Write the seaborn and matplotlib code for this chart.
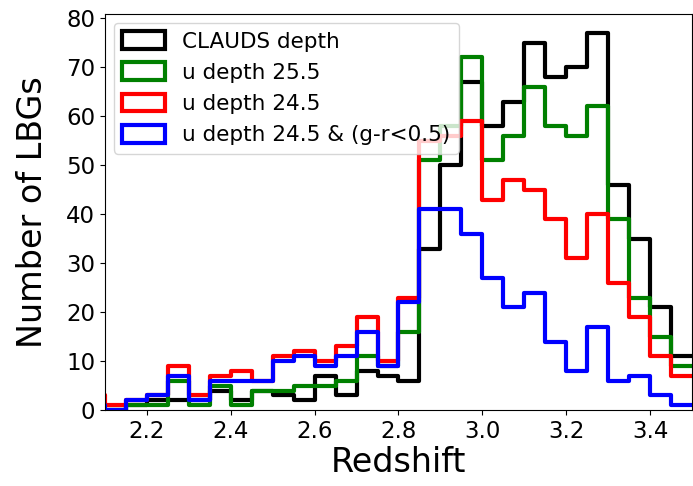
import numpy as np
import pandas as pd
import matplotlib
matplotlib.use("Agg")
import matplotlib.pyplot as plt
import seaborn as sns
from matplotlib.patches import Patch

# left edges of each 0.05-wide redshift bin
bin_left = [2.05, 2.10, 2.15, 2.20, 2.25, 2.30, 2.35, 2.40, 2.45, 2.50,
            2.55, 2.60, 2.65, 2.70, 2.75, 2.80, 2.85, 2.90, 2.95, 3.00,
            3.05, 3.10, 3.15, 3.20, 3.25, 3.30, 3.35, 3.40, 3.45]
bin_width = 0.05

# counts per bin
clauds = [0, 0, 1, 2, 2, 2, 4, 2, 4, 3,
          2, 7, 3, 8, 7, 6, 33, 50, 67, 58,
          63, 75, 68, 70, 77, 46, 35, 21, 11]
u255 = [0, 0, 1, 1, 6, 1, 5, 1, 4, 4,
        5, 5, 6, 11, 9, 16, 51, 58, 72, 51,
        56, 66, 58, 56, 62, 39, 23, 15, 9]
u245 = [3, 1, 2, 3, 9, 3, 7, 8, 6, 11,
        12, 10, 13, 19, 10, 23, 55, 56, 59, 43,
        47, 45, 39, 31, 40, 26, 19, 11, 7]
u245_gr = [1, 0, 2, 3, 7, 2, 6, 6, 6, 10,
           11, 9, 11, 16, 9, 22, 41, 41, 36, 27,
           21, 24, 14, 8, 17, 6, 7, 3, 1]

labels = ["CLAUDS depth", "u depth 25.5", "u depth 24.5", "u depth 24.5 & (g-r<0.5)"]
colors = ["black", "green", "red", "blue"]

centers = [b + bin_width / 2 for b in bin_left]
brange = (bin_left[0], bin_left[-1] + bin_width)

fig = plt.figure(figsize=(6.93, 4.86), dpi=100)
ax = fig.add_axes([0.1515, 0.156, 0.847, 0.815])

# draw in legend order so blue ends up on top
for counts, c in zip([clauds, u255, u245, u245_gr], colors):
    df = pd.DataFrame({"z": centers, "n": counts})
    sns.histplot(data=df, x="z", weights="n", binwidth=bin_width, binrange=brange,
                 element="step", fill=False, color=c, lw=3, ax=ax)

ax.set_xlim(2.1, 3.5)
ax.set_ylim(0, 80.85)
ax.set_xticks([2.2, 2.4, 2.6, 2.8, 3.0, 3.2, 3.4])
ax.set_yticks(range(0, 81, 10))
ax.tick_params(labelsize=16.5)
ax.set_xlabel("Redshift", fontsize=24, labelpad=2)
ax.set_ylabel("Number of LBGs", fontsize=24, labelpad=12)

handles = [Patch(facecolor="none", edgecolor=c, lw=3) for c in colors]
ax.legend(handles, labels, loc="upper left", fontsize=15.5, handleheight=0.9,
          borderaxespad=0.4)

fig.savefig("out.png", dpi=100)
